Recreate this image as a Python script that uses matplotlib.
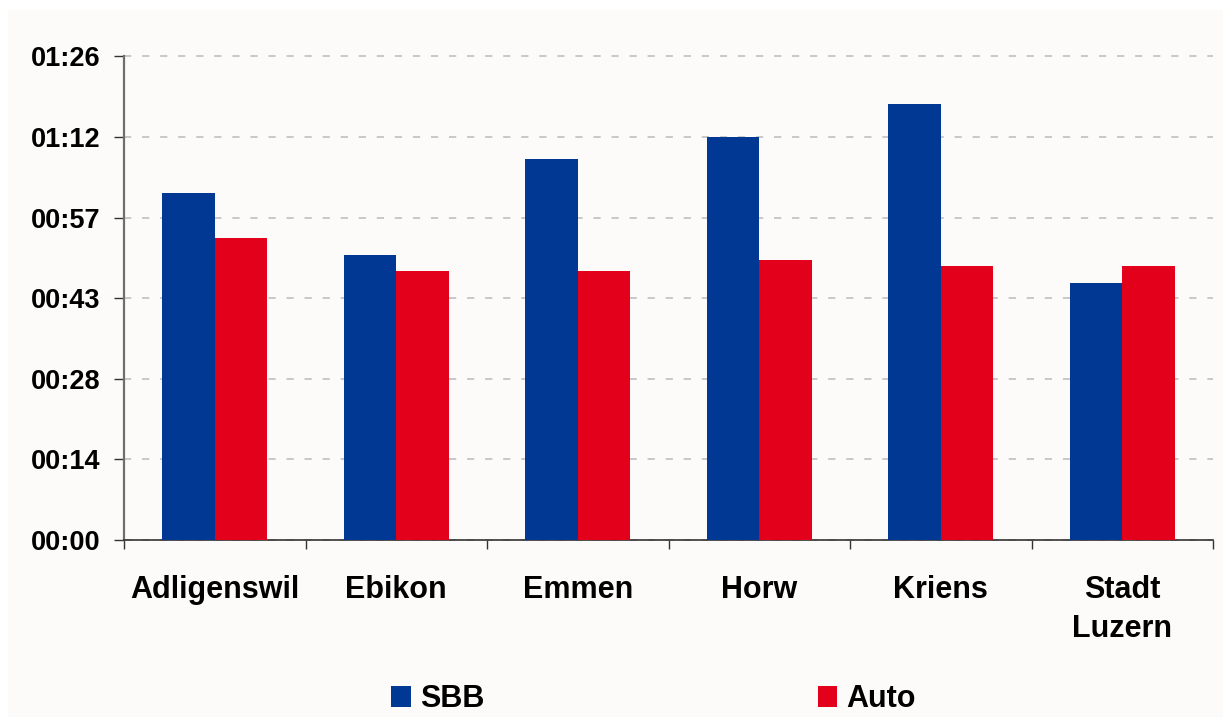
import matplotlib
matplotlib.use("Agg")
import matplotlib.pyplot as plt
from matplotlib.patches import Rectangle, Patch
import numpy as np

# Travel times in minutes
categories = ["Adligenswil", "Ebikon", "Emmen", "Horw", "Kriens", "Stadt\nLuzern"]
sbb_minutes = [62, 51, 68, 72, 78, 46]
auto_minutes = [54, 48, 48, 50, 49, 49]
series_names = ["SBB", "Auto"]
series_colors = ["#003893", "#E2001A"]

# Axis scale: one tick every 0.01 day (14.4 minutes)
tick_step = 14.4
tick_values = [i * tick_step for i in range(7)]


def hhmm(minutes):
    total = int(minutes + 1e-9)
    return f"{total // 60:02d}:{total % 60:02d}"


tick_labels = [hhmm(v) for v in tick_values]

plt.rcParams["font.family"] = ["Liberation Sans", "DejaVu Sans"]
plt.rcParams["font.weight"] = "bold"

W, H = 1223, 717
fig = plt.figure(figsize=(W / 100, H / 100), dpi=100)
fig.patch.set_facecolor("white")
# off-white chart panel
fig.add_artist(Rectangle((8 / W, 0), 1 - 8 / W, 1 - 10 / H, transform=fig.transFigure,
                         facecolor="#FCFBF9", edgecolor="none", zorder=0))

ax = fig.add_axes([124 / W, 1 - 540 / H, (1213 - 124) / W, (540 - 56.5) / H])
ax.set_facecolor("none")

x = np.arange(len(categories))
bw = 0.29
ax.bar(x - bw / 2, sbb_minutes, bw, color=series_colors[0], zorder=3)
ax.bar(x + bw / 2, auto_minutes, bw, color=series_colors[1], zorder=3)

ax.set_xlim(-0.5, len(categories) - 0.5)
ax.set_ylim(0, tick_values[-1])

ax.set_yticks(tick_values)
ax.set_yticklabels(tick_labels, fontsize=19.5, fontweight="bold")
ax.tick_params(axis="y", length=7.2, width=1, color="#333333", pad=10, direction="out")

ax.set_xticks(x)
ax.set_xticklabels(categories, fontsize=22, fontweight="bold", linespacing=1.4)
ax.tick_params(axis="x", which="major", length=0, pad=25)
ax.set_xticks(np.arange(len(categories) + 1) - 0.5, minor=True)
ax.tick_params(axis="x", which="minor", length=6.5, width=1, color="#333333", direction="out")

ax.yaxis.grid(True, color="#C4C4C4", linewidth=1.3, linestyle=(0, (4, 6)), zorder=0)
for gl in ax.get_ygridlines():
    gl.set_clip_on(False)
ax.set_axisbelow(True)

for s in ["top", "right"]:
    ax.spines[s].set_visible(False)
ax.spines["left"].set_color("#6E6E6E")
ax.spines["left"].set_linewidth(1.6)
ax.spines["bottom"].set_color("#333333")
ax.spines["bottom"].set_linewidth(1.2)

handles = [Patch(facecolor=c, edgecolor="none") for c in series_colors]
leg = fig.legend(handles, series_names, loc="lower left", bbox_to_anchor=(388 / W, 0.0),
                 ncol=2, frameon=False, prop={"size": 22, "weight": "bold"},
                 handlelength=0.65, handleheight=0.7, handletextpad=0.3,
                 columnspacing=10.9, borderpad=0.1, borderaxespad=0.0)

fig.savefig("out.png", dpi=100, facecolor=fig.get_facecolor())
